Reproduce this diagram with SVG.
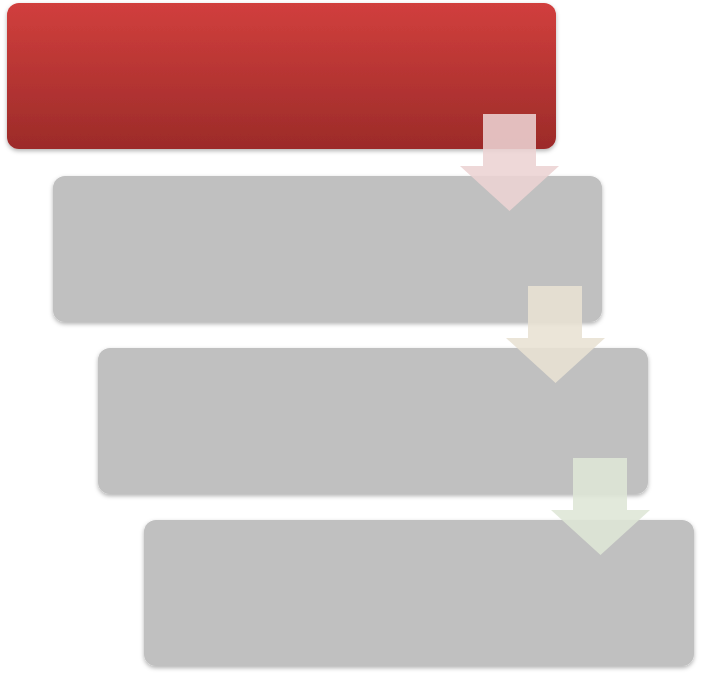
<svg xmlns="http://www.w3.org/2000/svg" width="701" height="677" viewBox="0 0 701 677">
<defs>
<linearGradient id="red" x1="0" y1="0" x2="0" y2="1">
<stop offset="0" stop-color="#d13f3d"/>
<stop offset="1" stop-color="#9c2b29"/>
</linearGradient>
<filter id="sh" x="-5%" y="-5%" width="110%" height="115%">
<feDropShadow dx="0" dy="2" stdDeviation="2" flood-color="#000" flood-opacity="0.3"/>
</filter>
<style>
.box{filter:url(#sh)}
.gray{fill:#c0c0c0}
.arr{fill-opacity:0.88}
</style>
</defs>
<g id="node1"><rect class="box" x="7" y="3" width="549" height="146" rx="12" fill="url(#red)"/></g>
<g id="node2"><rect class="box gray" x="53" y="176" width="549" height="146" rx="12"/></g>
<g id="node3"><rect class="box gray" x="98" y="348" width="550" height="146" rx="12"/></g>
<g id="node4"><rect class="box gray" x="144" y="520" width="550" height="146" rx="12"/></g>
<g id="connectors">
<path class="arr" fill="#ecd3d3" d="M483,114 H536 V166 H559 L509.5,211 L460,166 H483 Z"/>
<path class="arr" fill="#e8e1d3" d="M528,286 H582 V338 H605 L555.5,383 L506,338 H528 Z"/>
<path class="arr" fill="#dee6d6" d="M573,458 H627 V510 H650 L600.5,555 L551,510 H573 Z"/>
</g>
</svg>
